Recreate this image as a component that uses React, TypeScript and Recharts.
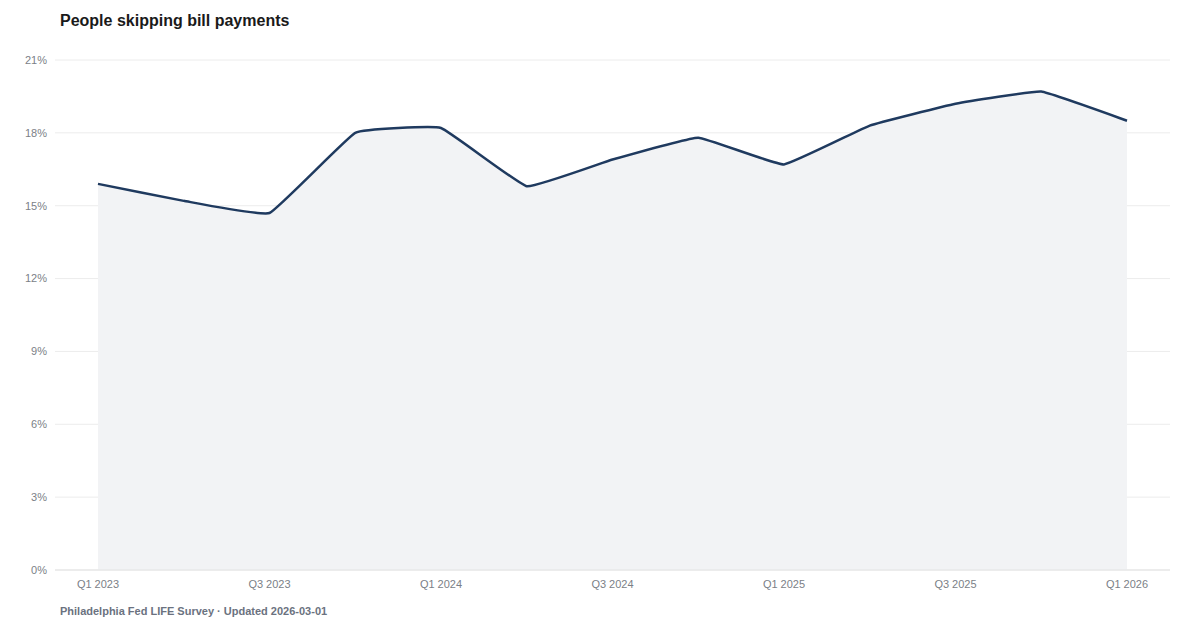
import { Area, AreaChart, CartesianGrid, XAxis, YAxis } from "recharts";

const QUARTERS = [
  "Q1 2023", "Q2 2023", "Q3 2023", "Q4 2023",
  "Q1 2024", "Q2 2024", "Q3 2024", "Q4 2024",
  "Q1 2025", "Q2 2025", "Q3 2025", "Q4 2025",
  "Q1 2026",
];

const SKIPPING_PCT = [15.9, 15.2, 14.7, 18.0, 18.2, 15.8, 16.9, 17.8, 16.7, 18.3, 19.2, 19.7, 18.5];

const Y_TICKS = [0, 3, 6, 9, 12, 15, 18, 21];

const FONT = '"Liberation Sans", Arial, Helvetica, sans-serif';

const data = QUARTERS.map((q, i) => ({ quarter: q, value: SKIPPING_PCT[i] }));

// light cardinal smoothing: nearly straight segments with softened corners
const K = 0.045;

// eslint-disable-next-line @typescript-eslint/no-explicit-any
function softCurve(context: any) {
  let pts: [number, number][] = [];
  let inArea = false;
  let lineIndex = 0;

  function draw(continuing: boolean) {
    if (!pts.length) return;
    const [x0, y0] = pts[0];
    if (continuing) context.lineTo(x0, y0);
    else context.moveTo(x0, y0);
    for (let i = 0; i < pts.length - 1; i++) {
      const p0 = pts[Math.max(i - 1, 0)];
      const p1 = pts[i];
      const p2 = pts[i + 1];
      const p3 = pts[Math.min(i + 2, pts.length - 1)];
      context.bezierCurveTo(
        p1[0] + K * (p2[0] - p0[0]),
        p1[1] + K * (p2[1] - p0[1]),
        p2[0] - K * (p3[0] - p1[0]),
        p2[1] - K * (p3[1] - p1[1]),
        p2[0],
        p2[1]
      );
    }
  }

  return {
    areaStart() {
      inArea = true;
      lineIndex = 0;
    },
    areaEnd() {
      inArea = false;
    },
    lineStart() {
      pts = [];
    },
    lineEnd() {
      const continuing = inArea && lineIndex === 1;
      draw(continuing);
      if (continuing) context.closePath();
      lineIndex++;
    },
    point(x: number, y: number) {
      pts.push([+x, +y]);
    },
  };
}

export default function App() {
  return (
    <div style={{ position: "relative", width: 1200, height: 630, margin: -8, background: "#fff", fontFamily: FONT }}>
      <div style={{ position: "absolute", left: 60, top: 12, fontSize: 16, fontWeight: 700, color: "#1a1a1a" }}>
        People skipping bill payments
      </div>
      <div style={{ position: "absolute", top: 0, left: 0 }}>
        <AreaChart width={1200} height={600} data={data} margin={{ top: 60, right: 30, bottom: 0, left: 0 }}>
          <CartesianGrid vertical={false} stroke="#ececec" />
          <XAxis
            dataKey="quarter"
            interval={1}
            padding={{ left: 43, right: 43 }}
            tickLine={false}
            tickMargin={4}
            axisLine={{ stroke: "#e3e3e3" }}
            height={30}
            tick={{ fontSize: 11, fill: "#7b7f87", fontFamily: FONT }}
          />
          <YAxis
            width={55}
            domain={[0, 21]}
            ticks={Y_TICKS}
            tickFormatter={(v: number) => `${v}%`}
            axisLine={false}
            tickLine={false}
            tick={{ fontSize: 11, fill: "#7b7f87", fontFamily: FONT }}
          />
          <Area
            type={softCurve}
            dataKey="value"
            stroke="#1f3a5f"
            strokeWidth={2.5}
            fill="#f2f3f5"
            fillOpacity={1}
            dot={false}
            activeDot={false}
            isAnimationActive={false}
          />
        </AreaChart>
      </div>
      <div style={{ position: "absolute", left: 60, top: 605, fontSize: 11, fontWeight: 700, color: "#6b7280" }}>
        Philadelphia Fed LIFE Survey · Updated 2026-03-01
      </div>
    </div>
  );
}
